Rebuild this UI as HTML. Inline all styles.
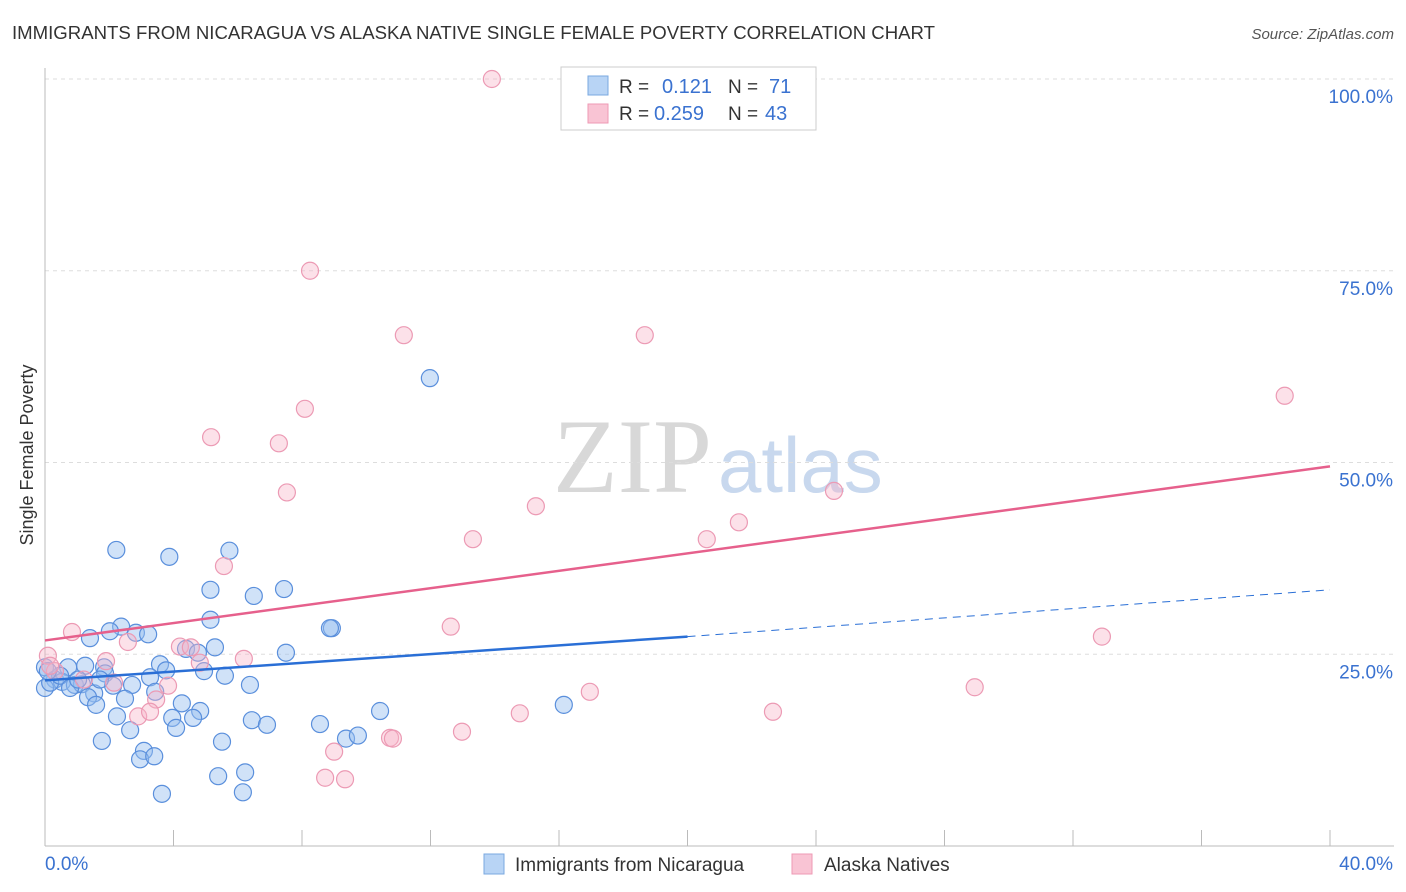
<!DOCTYPE html>
<html><head><meta charset="utf-8"><style>
body{margin:0;background:#fff;font-family:"Liberation Sans",sans-serif;}
svg{display:block}
</style></head><body>
<svg id="chart" width="1406" height="892" xmlns="http://www.w3.org/2000/svg">
<text x="12" y="39" font-size="18.6" fill="#333">IMMIGRANTS FROM NICARAGUA VS ALASKA NATIVE SINGLE FEMALE POVERTY CORRELATION CHART</text>
<text x="1394" y="39" font-size="15" fill="#555" font-style="italic" text-anchor="end">Source: ZipAtlas.com</text>
<text x="33" y="455" font-size="18" fill="#333" text-anchor="middle" transform="rotate(-90 33 455)">Single Female Poverty</text>
<text x="553" y="492" font-size="106" fill="#d8d8d8" font-family="Liberation Serif,serif">ZIP</text>
<text x="718" y="492" font-size="78" fill="#c8d8ee">atlas</text>
<g id="grid"></g><g id="ticks"></g>
<g id="pts"></g><g id="lines"></g>
<g>
<rect x="561" y="67" width="255" height="63" fill="#fff" stroke="#ccc"/>
<rect x="588" y="76" width="20" height="19" fill="#b8d4f5" stroke="#7aa8e0"/>
<rect x="588" y="104" width="20" height="19" fill="#f9c4d4" stroke="#ee9ab4"/>
<text x="619" y="93" font-size="19" fill="#333">R = </text><text x="662" y="93" font-size="20" fill="#3a72d0">0.121</text>
<text x="728" y="93" font-size="19" fill="#333">N = </text><text x="769" y="93" font-size="20" fill="#3a72d0">71</text>
<text x="619" y="120" font-size="19" fill="#333">R = </text><text x="654" y="120" font-size="20" fill="#3a72d0">0.259</text>
<text x="728" y="120" font-size="19" fill="#333">N = </text><text x="765" y="120" font-size="20" fill="#3a72d0">43</text>
</g>
<g>
<rect x="484" y="854" width="20" height="20" fill="#b8d4f5" stroke="#7aa8e0"/>
<text x="515" y="871" font-size="19" fill="#333">Immigrants from Nicaragua</text>
<rect x="792" y="854" width="20" height="20" fill="#f9c4d4" stroke="#ee9ab4"/>
<text x="824" y="871" font-size="19" fill="#333">Alaska Natives</text>
</g>
</svg>
<script>
const blueX=[2.22,3.87,5.74,5.15,6.50,7.44,5.15,2.37,2.02,2.83,3.21,1.40,8.93,8.87,4.39,5.29,4.76,7.50,3.58,3.77,4.95,5.60,1.25,0.72,1.84,1.87,0,0.31,0.53,0.93,1.15,3.27,2.71,2.12,6.38,3.43,1.53,1.34,2.49,1.59,4.26,4.83,3.96,4.61,2.24,6.44,6.91,8.56,10.43,16.15,4.08,2.65,1.77,5.51,9.37,9.74,3.08,2.96,3.40,5.39,6.23,3.64,6.16,11.98,0,0.16,0.47,0.78,0.09,1.03,1.71];
const blueY=[38.6,37.7,38.5,33.4,32.6,33.5,29.5,28.6,28.0,27.8,27.6,27.1,28.4,28.4,25.7,25.9,25.2,25.2,23.7,22.9,22.8,22.2,23.5,23.3,23.3,22.5,23.3,21.7,21.4,21.0,21.1,22.0,21.0,20.9,21.0,20.1,19.9,19.4,19.2,18.4,18.6,17.6,16.7,16.7,16.9,16.4,15.8,15.9,17.6,18.4,15.4,15.1,13.7,13.6,14.0,14.4,12.4,11.3,11.7,9.1,9.6,6.8,7.0,61.0,20.6,21.3,22.2,20.6,22.8,21.7,21.7];
const pinkX=[13.91,8.25,11.17,18.67,38.59,8.09,5.17,7.28,7.53,15.28,24.56,21.60,13.32,20.60,5.57,0.84,2.58,4.20,4.54,12.63,32.90,6.19,1.90,4.82,0.09,0.31,2.15,3.83,16.96,28.94,3.46,2.90,3.27,14.78,22.66,12.98,10.74,10.83,9.00,8.72,9.34,0.16,1.21];
const pinkY=[100,75.0,66.6,66.6,58.7,57.0,53.3,52.5,46.1,44.3,46.3,42.2,40.0,40.0,36.5,27.9,26.6,26.0,25.9,28.6,27.3,24.4,24.1,23.9,24.8,22.8,21.3,20.9,20.1,20.7,19.1,16.9,17.5,17.3,17.5,14.9,14.1,14.0,12.3,8.9,8.7,23.5,21.7];
const trendBlue=[0,21.6,20,27.3,40,33.4];
const trendPink=[0,26.8,40,49.5];
const yTicks=[25,50,75,100];
const xTickLabels=["0.0%","40.0%"];
const NS="http://www.w3.org/2000/svg";
const X=v=>45+v/40*1285, Y=v=>846-v/100*767;
function mk(t,a,p){const e=document.createElementNS(NS,t);for(const k in a)e.setAttribute(k,a[k]);p.appendChild(e);return e;}
const grid=document.getElementById('grid'),ticks=document.getElementById('ticks');
yTicks.forEach(t=>{const l=mk('line',{x1:45,x2:1394,y1:Y(t),y2:Y(t),stroke:'#ddd','stroke-dasharray':'4,4'},grid);


const tx=mk('text',{x:1393,y:Y(t)+24,'font-size':19,fill:'#3a72d0','text-anchor':'end'},ticks);tx.textContent=t.toFixed(1)+'%';

});
mk('line',{x1:45,x2:45,y1:68,y2:846,stroke:'#bbb'},ticks);
mk('line',{x1:45,x2:1394,y1:846,y2:846,stroke:'#bbb'},ticks);
for(let i=0;i<=10;i++){const xx=X(i*4);mk('line',{x1:xx,x2:xx,y1:830,y2:846,stroke:'#bbb'},ticks);}
const t0=mk('text',{x:45,y:870,'font-size':19,fill:'#3a72d0'},ticks);t0.textContent=xTickLabels[0];


const t1=mk('text',{x:1393,y:870,'font-size':19,fill:'#3a72d0','text-anchor':'end'},ticks);t1.textContent=xTickLabels[1];


const pts=document.getElementById('pts');
blueX.forEach((v,i)=>{const c=mk('circle',{cx:X(v),cy:Y(blueY[i]),r:8.5,fill:'rgba(150,190,240,0.45)',stroke:'#5a8fdc','stroke-width':1.2},pts);

});
pinkX.forEach((v,i)=>{const c=mk('circle',{cx:X(v),cy:Y(pinkY[i]),r:8.5,fill:'rgba(248,180,200,0.4)',stroke:'#ec9ab4','stroke-width':1.2},pts);

});
const lines=document.getElementById('lines');
const b1=mk('line',{x1:X(trendBlue[0]),y1:Y(trendBlue[1]),x2:X(trendBlue[2]),y2:Y(trendBlue[3]),stroke:'#2a6fd6','stroke-width':2.5},lines);


const b2=mk('line',{x1:X(trendBlue[2]),y1:Y(trendBlue[3]),x2:X(trendBlue[4]),y2:Y(trendBlue[5]),stroke:'#2a6fd6','stroke-width':1,'stroke-dasharray':'8,6'},lines);


const p1=mk('line',{x1:X(trendPink[0]),y1:Y(trendPink[1]),x2:X(trendPink[2]),y2:Y(trendPink[3]),stroke:'#e6608c','stroke-width':2.5},lines);


</script>
</body></html>
